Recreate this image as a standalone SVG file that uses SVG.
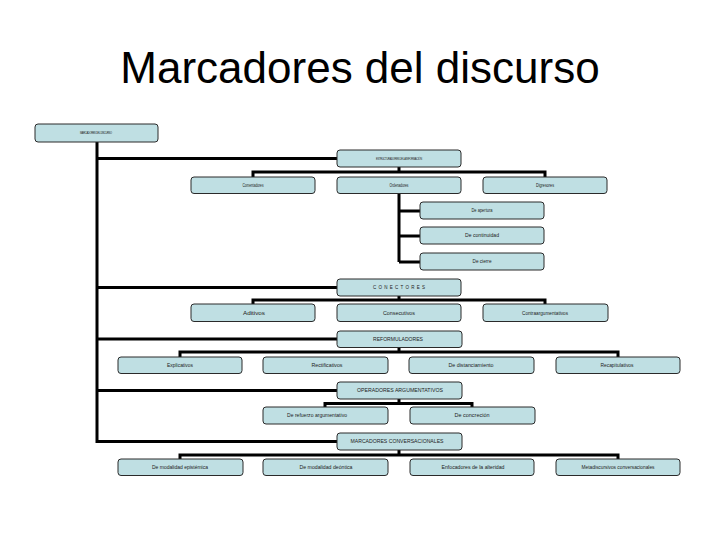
<svg xmlns="http://www.w3.org/2000/svg" width="720" height="540" viewBox="0 0 720 540">
<style>
.b{fill:#bfdfe3;stroke:#2a2a2a;stroke-width:1}
.t{font-family:"Liberation Sans",Arial,sans-serif;font-size:4.5px;fill:#222;text-anchor:middle}
.s{font-size:2.6px}
.c{fill:none;stroke:#000;stroke-width:3;stroke-linejoin:miter;stroke-linecap:butt}
.title{font-family:"Liberation Sans",Arial,sans-serif;font-size:44px;fill:#000;text-anchor:middle}
</style>
<rect width="720" height="540" fill="#fff"/>
<text class="title" x="360" y="83">Marcadores del discurso</text>
<g id="connectors">
<path class="c" d="M97 142V443M97 158.5H337M97 287.5H337M97 339H337M97 390.5H337M97 441.5H337"/>
<path class="c" d="M399 167V172M253 177V172H545V177"/>
<path class="c" d="M399 193V262M399 211H420M399 236H420M399 262H420"/>
<path class="c" d="M399 296V300M253 304V300H545V304"/>
<path class="c" d="M399 347V352M180 357V352H618V357"/>
<path class="c" d="M399 399V403.5M325 407V403.5H472V407"/>
<path class="c" d="M399 450V455M180 459V455H618V459"/>
</g>
<g id="root"><rect class="b" x="35" y="124" width="123" height="18" rx="3"/><text class="t s" x="96" y="134" textLength="32" lengthAdjust="spacing">MARCADORES DEL DISCURSO</text></g>
<g id="estructuradores"><rect class="b" x="337" y="150" width="124" height="17" rx="3"/><text class="t s" x="399" y="159.5" textLength="46" lengthAdjust="spacing">ESTRUCTURADORES DE LA INFORMACIÓN</text></g>
<g id="comentadores"><rect class="b" x="191" y="177" width="124" height="16.5" rx="3"/><text class="t" x="253" y="187" textLength="21" lengthAdjust="spacingAndGlyphs">Comentadores</text></g>
<g id="ordenadores"><rect class="b" x="337" y="177" width="124" height="16.5" rx="3"/><text class="t" x="399" y="187" textLength="19" lengthAdjust="spacingAndGlyphs">Ordenadores</text></g>
<g id="digresores"><rect class="b" x="483" y="177" width="124" height="16.5" rx="3"/><text class="t" x="545" y="187" textLength="18" lengthAdjust="spacingAndGlyphs">Digresores</text></g>
<g id="apertura"><rect class="b" x="420" y="202" width="124" height="17" rx="3"/><text class="t" x="482" y="212" textLength="21" lengthAdjust="spacingAndGlyphs">De apertura</text></g>
<g id="continuidad"><rect class="b" x="420" y="227" width="124" height="17" rx="3"/><text class="t" x="482" y="237" textLength="34" lengthAdjust="spacingAndGlyphs">De continuidad</text></g>
<g id="cierre"><rect class="b" x="420" y="253" width="124" height="17" rx="3"/><text class="t" x="482" y="263" textLength="19" lengthAdjust="spacingAndGlyphs">De cierre</text></g>
<g id="conectores"><rect class="b" x="337" y="279" width="124" height="17" rx="3"/><text class="t" x="399" y="289" textLength="52" lengthAdjust="spacing">CONECTORES</text></g>
<g id="aditivos"><rect class="b" x="191" y="304" width="124" height="17.5" rx="3"/><text class="t" x="254" y="314.5" textLength="22" lengthAdjust="spacingAndGlyphs">Aditivos</text></g>
<g id="consecutivos"><rect class="b" x="337" y="304" width="124" height="17.5" rx="3"/><text class="t" x="399" y="314.5" textLength="32" lengthAdjust="spacingAndGlyphs">Consecutivos</text></g>
<g id="contraargumentativos"><rect class="b" x="483" y="304" width="125" height="17.5" rx="3"/><text class="t" x="545" y="314.5" textLength="46" lengthAdjust="spacingAndGlyphs">Contraargumentativos</text></g>
<g id="reformuladores"><rect class="b" x="337" y="331" width="125" height="16.5" rx="3"/><text class="t" x="398" y="341" textLength="50" lengthAdjust="spacingAndGlyphs">REFORMULADORES</text></g>
<g id="explicativos"><rect class="b" x="118" y="357" width="124" height="16.5" rx="3"/><text class="t" x="180" y="367" textLength="26" lengthAdjust="spacingAndGlyphs">Explicativos</text></g>
<g id="rectificativos"><rect class="b" x="263" y="357" width="125" height="16.5" rx="3"/><text class="t" x="327" y="367" textLength="31" lengthAdjust="spacingAndGlyphs">Rectificativos</text></g>
<g id="distanciamiento"><rect class="b" x="409" y="357" width="125" height="16.5" rx="3"/><text class="t" x="471" y="367" textLength="45" lengthAdjust="spacingAndGlyphs">De distanciamiento</text></g>
<g id="recapitulativos"><rect class="b" x="556" y="357" width="124" height="16.5" rx="3"/><text class="t" x="617" y="367" textLength="33" lengthAdjust="spacingAndGlyphs">Recapitulativos</text></g>
<g id="operadores"><rect class="b" x="337" y="382" width="125" height="17" rx="3"/><text class="t" x="400" y="392" textLength="86" lengthAdjust="spacingAndGlyphs">OPERADORES ARGUMENTATIVOS</text></g>
<g id="refuerzo"><rect class="b" x="263" y="407" width="125" height="17" rx="3"/><text class="t" x="317" y="417" textLength="60" lengthAdjust="spacingAndGlyphs">De refuerzo argumentativo</text></g>
<g id="concrecion"><rect class="b" x="410" y="407" width="125" height="17" rx="3"/><text class="t" x="472" y="417" textLength="35" lengthAdjust="spacingAndGlyphs">De concreción</text></g>
<g id="conversacionales"><rect class="b" x="337" y="433" width="125" height="17" rx="3"/><text class="t" x="397" y="443" textLength="93" lengthAdjust="spacingAndGlyphs">MARCADORES CONVERSACIONALES</text></g>
<g id="epistemica"><rect class="b" x="118" y="459" width="125" height="16.5" rx="3"/><text class="t" x="180" y="469" textLength="56" lengthAdjust="spacingAndGlyphs">De modalidad epistémica</text></g>
<g id="deontica"><rect class="b" x="263" y="459" width="125" height="16.5" rx="3"/><text class="t" x="326" y="469" textLength="53" lengthAdjust="spacingAndGlyphs">De modalidad deóntica</text></g>
<g id="alteridad"><rect class="b" x="410" y="459" width="124" height="16.5" rx="3"/><text class="t" x="473" y="469" textLength="63" lengthAdjust="spacingAndGlyphs">Enfocadores de la alteridad</text></g>
<g id="metadiscursivos"><rect class="b" x="556" y="459" width="124" height="16.5" rx="3"/><text class="t" x="618" y="469" textLength="73" lengthAdjust="spacingAndGlyphs">Metadiscursivos conversacionales</text></g>
</svg>
